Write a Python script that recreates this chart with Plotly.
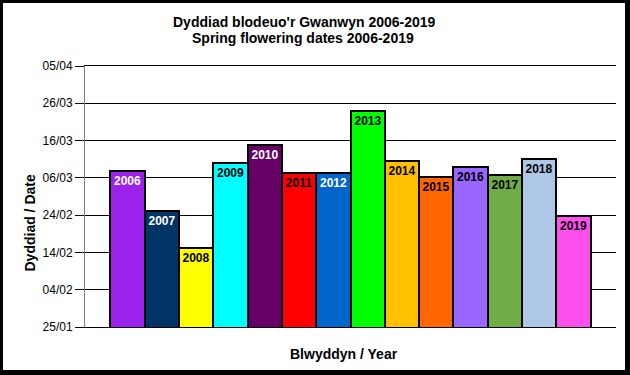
from datetime import datetime
import plotly.graph_objects as go

# ---- data ----
years = ["2006", "2007", "2008", "2009", "2010", "2011", "2012",
         "2013", "2014", "2015", "2016", "2017", "2018", "2019"]
# mean flowering date, as day of year (1 Jan = 1)
flowering_day = [66.9, 56.0, 46.1, 69.1, 73.9, 66.3, 66.4,
                 83.0, 69.6, 65.1, 68.0, 65.7, 70.0, 54.8]
bar_colors = ["#9B22EA", "#003366", "#FFFF00", "#00FFFF", "#660066", "#FF0000", "#0066CC",
              "#00FF00", "#FFC000", "#FF6600", "#9966FF", "#70AD47", "#ADC8E6", "#FF50EE"]
label_colors = ["white", "white", "black", "black", "white", "black", "white",
                "black", "black", "black", "black", "black", "black", "black"]
tick_labels = ["25/01", "04/02", "14/02", "24/02", "06/03", "16/03", "26/03", "05/04"]

title_lines = ["Dyddiad blodeuo'r Gwanwyn 2006-2019", "Spring flowering dates 2006-2019"]
y_title = "Dyddiad / Date"
x_title = "Blwyddyn / Year"


def day_of_year(label):
    return datetime.strptime(label + "/2001", "%d/%m/%Y").timetuple().tm_yday


tick_vals = [day_of_year(t) for t in tick_labels]

# ---- layout geometry (pixels) ----
W, H = 630, 375
L, R, T, B = 85, 14, 66, 48
PW, PH = W - L - R, H - T - B


def px(x):
    return (x - L) / PW


def py(y):
    return (H - B - y) / PH


FONT = "Liberation Sans, Arial, sans-serif"

fig = go.Figure()
fig.add_trace(go.Bar(
    x=years,
    y=flowering_day,
    marker=dict(color=bar_colors, line=dict(color="black", width=2)),
    text=years,
    textposition="inside",
    insidetextanchor="end",
    textangle=0,
    textfont=dict(family=FONT, size=12, color=label_colors, weight="bold"),
    hoverinfo="skip",
))

fig.update_layout(
    width=W, height=H,
    margin=dict(l=L, r=R, t=T, b=B, pad=0),
    paper_bgcolor="white",
    plot_bgcolor="white",
    showlegend=False,
    bargap=0,
    uniformtext=dict(minsize=12, mode="show"),
    font=dict(family=FONT, size=12, color="black"),
    xaxis=dict(
        type="category",
        range=[-1.24, 14.24],
        showticklabels=False,
        ticks="",
        showgrid=False,
        showline=True, mirror=True, linecolor="black", linewidth=1,
        zeroline=False,
    ),
    yaxis=dict(
        range=[tick_vals[0], tick_vals[-1]],
        tickmode="array",
        tickvals=tick_vals,
        ticktext=tick_labels,
        ticks="outside", ticklen=9, tickcolor="black", tickwidth=1,
        showgrid=True, gridcolor="black", gridwidth=1,
        showline=True, linecolor="#808080", linewidth=1,
        zeroline=False,
        tickfont=dict(family=FONT, size=12, color="black"),
    ),
)

annotations = [
    dict(text=title_lines[0], x=px(304.5), y=py(22)),
    dict(text=title_lines[1], x=px(303), y=py(38)),
    dict(text=x_title, x=px(344), y=py(354)),
    dict(text=y_title, x=px(29), y=py(223.5), textangle=-90),
]
for a in annotations:
    fig.add_annotation(
        xref="paper", yref="paper", showarrow=False,
        xanchor="center", yanchor="middle",
        font=dict(family=FONT, size=14, color="black", weight="bold"),
        **a,
    )

# chart frame with heavier right/bottom edge (shadow)
for (x0, y0, x1, y1) in [(0, 0, 3, H), (0, 0, W, 3), (625, 0, W, H), (0, 370, W, H)]:
    fig.add_shape(type="rect", xref="paper", yref="paper",
                  x0=px(x0), x1=px(x1), y0=py(y1), y1=py(y0),
                  fillcolor="black", line=dict(width=0), layer="above")

fig.write_html(
    "out.html",
    config={"displayModeBar": False},
    post_script="document.body.style.margin='0';document.body.style.overflow='hidden';",
)
